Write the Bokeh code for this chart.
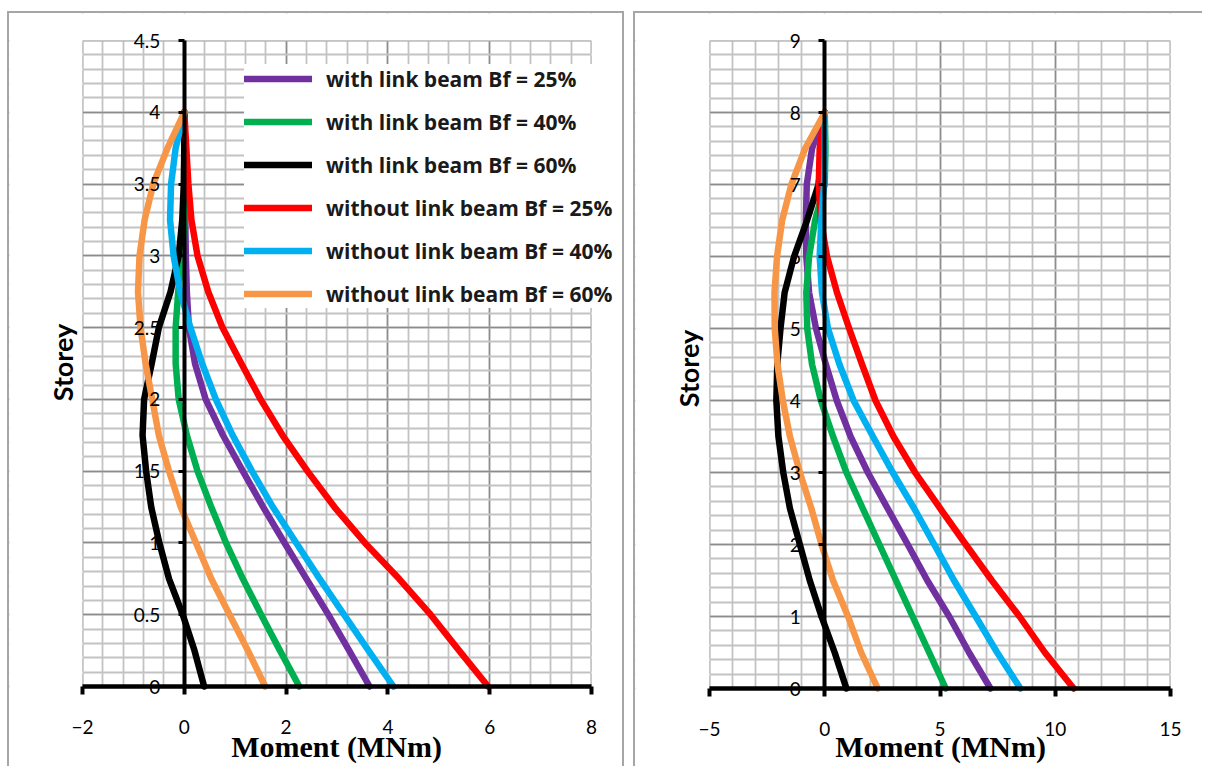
import math
from bokeh.plotting import figure
from bokeh.models import (Legend, LegendItem, Label, SingleIntervalTicker, Range1d, Spacer, BoxAnnotation)
from bokeh.layouts import row, column
from bokeh.embed import file_html
from bokeh.resources import INLINE

# ---------------- data ----------------
storey_left = [0.0, 0.25, 0.5, 0.75, 1.0, 1.25, 1.5, 1.75, 2.0, 2.25, 2.5, 2.75, 3.0, 3.25, 3.5, 3.75, 4.0]
storey_right = [0.0, 0.5, 1.0, 1.5, 2.0, 2.5, 3.0, 3.5, 4.0, 4.5, 5.0, 5.5, 6.0, 6.5, 7.0, 7.5, 8.0]

series_names = ["with link beam Bf = 25%", "with link beam Bf = 40%", "with link beam Bf = 60%",
                "without link beam Bf = 25%", "without link beam Bf = 40%", "without link beam Bf = 60%"]
series_colors = ["#7030a0", "#00b050", "#000000", "#ff0000", "#00b0f0", "#f79646"]

left_with_25 = [3.64, 3.24, 2.83, 2.40, 1.97, 1.55, 1.15, 0.76, 0.42, 0.21, 0.09, 0.05, 0.03, 0.02, 0.01, 0.0, 0.0]
left_with_40 = [2.26, 1.88, 1.51, 1.15, 0.82, 0.53, 0.26, 0.05, -0.11, -0.17, -0.17, -0.12, -0.04, 0.0, 0.01, 0.01, 0.0]
left_with_60 = [0.39, 0.20, -0.03, -0.30, -0.49, -0.65, -0.75, -0.82, -0.79, -0.64, -0.50, -0.27, -0.11, -0.04, -0.01, 0.0, 0.0]
left_without_25 = [5.97, 5.40, 4.84, 4.22, 3.55, 2.95, 2.42, 1.93, 1.50, 1.12, 0.75, 0.47, 0.26, 0.14, 0.08, 0.04, 0.0]
left_without_40 = [4.11, 3.62, 3.14, 2.66, 2.20, 1.74, 1.33, 0.95, 0.62, 0.35, 0.12, -0.08, -0.21, -0.28, -0.26, -0.17, 0.0]
left_without_60 = [1.59, 1.25, 0.89, 0.53, 0.23, -0.07, -0.30, -0.50, -0.63, -0.76, -0.86, -0.91, -0.88, -0.78, -0.61, -0.33, 0.0]

right_with_25 = [7.19, 6.26, 5.40, 4.45, 3.60, 2.73, 1.87, 1.12, 0.52, 0.05, -0.38, -0.68, -0.80, -0.82, -0.78, -0.55, 0.0]
right_with_40 = [5.25, 4.53, 3.81, 3.09, 2.37, 1.65, 0.94, 0.36, -0.17, -0.55, -0.76, -0.80, -0.68, -0.42, 0.0, 0.03, 0.0]
right_with_60 = [0.94, 0.43, -0.14, -0.65, -1.08, -1.51, -1.80, -2.01, -2.10, -2.06, -1.92, -1.74, -1.33, -0.77, -0.27, -0.06, 0.0]
right_without_25 = [10.8, 9.55, 8.45, 7.25, 6.12, 5.01, 3.92, 2.98, 2.20, 1.62, 1.06, 0.53, 0.10, -0.17, -0.26, -0.22, 0.0]
right_without_40 = [8.49, 7.48, 6.55, 5.61, 4.75, 3.88, 2.95, 2.09, 1.25, 0.64, 0.14, -0.12, -0.22, -0.15, -0.03, 0.0, 0.0]
right_without_60 = [2.30, 1.58, 1.01, 0.36, -0.14, -0.58, -1.08, -1.51, -1.82, -2.05, -2.17, -2.18, -2.07, -1.85, -1.45, -0.85, 0.0]

left_series = [left_with_25, left_with_40, left_with_60, left_without_25, left_without_40, left_without_60]
right_series = [right_with_25, right_with_40, right_with_60, right_without_25, right_without_40, right_without_60]

left_x_bounds = (-2, 8)
left_y_bounds = (0, 4.5)
right_x_bounds = (-5, 15)
right_y_bounds = (0, 9)

x_title = "Moment (MNm)"
y_title = "Storey"

# ---------------- layout geometry (page pixels) ----------------
BORDER = "2px solid #a6a6a6"
CANVAS_TOP = 13
CANVAS_H = 755
LINE_W = 6.5


def span_range(d0, d1, p0, p1, c0, c1):
    """Range such that data d0 sits at pixel p0 and d1 at pixel p1, canvas spanning c0..c1."""
    k = (d1 - d0) / (p1 - p0)
    a = d0 + (c0 - p0) * k
    b = d0 + (c1 - p0) * k
    return (min(a, b), max(a, b))


def make_fig(xb, yb, x_int, y_int, canvas_left, width, px_x, px_y, styles):
    xr = span_range(xb[0], xb[1], px_x[0], px_x[1], canvas_left, canvas_left + width)
    yr = span_range(yb[0], yb[1], px_y[0], px_y[1], CANVAS_TOP, CANVAS_TOP + CANVAS_H)
    p = figure(width=width, height=CANVAS_H, x_range=Range1d(*xr), y_range=Range1d(*yr),
               output_backend="svg", toolbar_location=None,
               min_border_left=0, min_border_right=0, min_border_top=0, min_border_bottom=0,
               styles=styles)
    p.background_fill_color = "white"
    p.border_fill_color = "white"
    p.outline_line_color = None

    xt = SingleIntervalTicker(interval=x_int, num_minor_ticks=5)
    yt = SingleIntervalTicker(interval=y_int, num_minor_ticks=5)
    p.xaxis[0].ticker = xt
    p.xgrid[0].ticker = xt
    p.yaxis[0].ticker = yt
    p.ygrid[0].ticker = yt
    p.xgrid[0].bounds = xb
    p.ygrid[0].bounds = yb
    for g in (p.xgrid[0], p.ygrid[0]):
        g.grid_line_color = "#8c8c8c"
        g.grid_line_width = 1.5
        g.minor_grid_line_color = "#c3c3c3"
        g.minor_grid_line_width = 1.8

    # white covers outside the plotting rectangle (drawn over the grid, under everything else)
    for kw in (dict(right=xb[0]), dict(left=xb[1]), dict(bottom=yb[1]), dict(top=yb[0])):
        box = BoxAnnotation(fill_color="white", fill_alpha=1.0, line_color=None, level="underlay", **kw)
        p.add_layout(box)

    ax = p.xaxis[0]
    ax.fixed_location = 0
    ax.bounds = xb
    ax.axis_line_color = "black"
    ax.axis_line_width = 4.5
    ax.major_tick_line_color = "black"
    ax.major_tick_line_width = 4
    ax.major_tick_out = 8
    ax.major_tick_in = 0
    ax.minor_tick_line_color = None
    ax.major_label_text_font = "Lato"
    ax.major_label_text_font_size = "19px"
    ax.major_label_text_color = "black"
    ax.major_label_standoff = 25

    ay = p.yaxis[0]
    ay.fixed_location = 0
    ay.bounds = yb
    ay.axis_line_color = "black"
    ay.axis_line_width = 4
    ay.major_tick_line_color = "black"
    ay.major_tick_line_width = 3
    ay.major_tick_out = 6
    ay.major_tick_in = 0
    ay.minor_tick_line_color = None
    ay.major_label_text_font = "Lato"
    ay.major_label_text_font_size = "19px"
    ay.major_label_text_color = "black"
    ay.major_label_standoff = 18
    return p


def add_titles(p, storey_xy, moment_xy):
    p.add_layout(Label(x=storey_xy[0], y=storey_xy[1], text=y_title, angle=math.pi / 2,
                       text_align="center", text_baseline="middle", text_font="Lato",
                       text_font_style="bold", text_font_size="27px", text_color="black"))
    p.add_layout(Label(x=moment_xy[0], y=moment_xy[1], text=x_title, text_align="center",
                       text_baseline="middle", text_font="Liberation Serif", text_font_style="bold",
                       text_font_size="30px", text_color="black"))


def px_to_data(b, px_pair, pix):
    k = (b[1] - b[0]) / (px_pair[1] - px_pair[0])
    return b[0] + (pix - px_pair[0]) * k


# ---------------- left chart ----------------
L_PX_X, L_PX_Y = (82, 591), (686, 40)
p1 = make_fig(left_x_bounds, left_y_bounds, 2, 0.5, 9, 617, L_PX_X, L_PX_Y,
              {"border-top": BORDER, "border-left": BORDER, "border-right": BORDER})
renderers = []
for vals, col in zip(left_series, series_colors):
    r = p1.line(vals, storey_left, line_color=col, line_width=LINE_W, line_join="round", line_cap="round")
    renderers.append(r)

legend = Legend(items=[LegendItem(label=n, renderers=[r]) for n, r in zip(series_names, renderers)],
                location=(235, 460), orientation="vertical",
                label_text_font="Open Sans", label_text_font_style="bold", label_text_font_size="21px",
                label_text_color="#1a1a1a", glyph_width=68, glyph_height=29, label_height=29,
                spacing=14, padding=6, margin=0, label_standoff=14,
                border_line_color=None, background_fill_color="white", background_fill_alpha=1.0)
p1.add_layout(legend)

add_titles(p1,
           (px_to_data(left_x_bounds, L_PX_X, 62), px_to_data(left_y_bounds, L_PX_Y, 362)),
           (px_to_data(left_x_bounds, L_PX_X, 336), px_to_data(left_y_bounds, L_PX_Y, 746)))

# ---------------- right chart ----------------
R_PX_X, R_PX_Y = (709, 1170), (688, 40)
p2 = make_fig(right_x_bounds, right_y_bounds, 5, 1, 635, 569, R_PX_X, R_PX_Y,
              {"border-top": BORDER, "border-left": BORDER})
for vals, col in zip(right_series, series_colors):
    p2.line(vals, storey_right, line_color=col, line_width=LINE_W, line_join="round", line_cap="round")

add_titles(p2,
           (px_to_data(right_x_bounds, R_PX_X, 688), px_to_data(right_y_bounds, R_PX_Y, 368)),
           (px_to_data(right_x_bounds, R_PX_X, 940), px_to_data(right_y_bounds, R_PX_Y, 746)))

layout = column(Spacer(height=11), row(Spacer(width=7), p1, Spacer(width=9), p2))

open("out.html", "w").write(file_html(layout, INLINE))
